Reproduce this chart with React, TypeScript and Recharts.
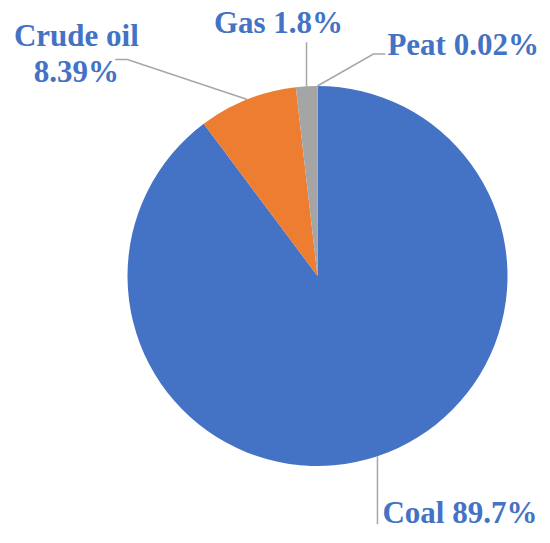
import { PieChart, Pie, Cell } from "recharts";

const fuels = ["Coal", "Crude oil", "Gas", "Peat"];
const shares = [89.7, 8.39, 1.8, 0.02];
const colors = ["#4472C4", "#ED7D31", "#A5A5A5", "#FFC000"];

const data = fuels.map((name, i) => ({ name, value: shares[i] }));

// label placement relative to the slice's arc midpoint
const layout: Record<
  string,
  { line: [number, number][]; tx: number; ty: number; anchor: "start" | "middle" | "end"; split?: boolean }
> = {
  Coal: { line: [[0, 0], [0, 68]], tx: 5, ty: 67, anchor: "start" },
  "Crude oil": { line: [[0, 0], [-120, -40], [-132, -40]], tx: -171, ty: -53, anchor: "middle", split: true },
  Gas: { line: [[0, 0], [0, -44]], tx: -28, ty: -53, anchor: "middle" },
  Peat: { line: [[0, 0], [56, -32], [68, -32]], tx: 70, ty: -31, anchor: "start" },
};

const RAD = Math.PI / 180;
const LABEL_COLOR = "#4472C4";
const LINE_COLOR = "#A6A6A6";

function arcPoint(p: any) {
  return {
    x: p.cx + p.outerRadius * Math.cos(-p.midAngle * RAD),
    y: p.cy + p.outerRadius * Math.sin(-p.midAngle * RAD),
  };
}

function renderLabel(p: any) {
  const name = p.name ?? p.payload?.name;
  const cfg = layout[name];
  if (!cfg) return null;
  const a = arcPoint(p);
  const x = a.x + cfg.tx;
  const y = a.y + cfg.ty;
  const style = {
    fontFamily: '"Liberation Serif", "Times New Roman", serif',
    fontWeight: 700,
    fontSize: 31,
  };
  if (cfg.split) {
    return (
      <text x={x} y={y} textAnchor={cfg.anchor} fill={LABEL_COLOR} style={style}>
        <tspan x={x}>{name}</tspan>
        <tspan x={x} dy={36}>{`${p.value}%`}</tspan>
      </text>
    );
  }
  return (
    <text x={x} y={y} textAnchor={cfg.anchor} fill={LABEL_COLOR} style={style}>
      {`${name} ${p.value}%`}
    </text>
  );
}

function renderLine(p: any) {
  const name = p.name ?? p.payload?.name;
  const cfg = layout[name];
  if (!cfg) return <g />;
  const a = arcPoint(p);
  const pts = cfg.line.map(([dx, dy]) => `${a.x + dx},${a.y + dy}`).join(" ");
  return <polyline points={pts} fill="none" stroke={LINE_COLOR} strokeWidth={1.5} />;
}

export default function App() {
  return (
    <div style={{ position: "absolute", left: 0, top: 0, width: 550, height: 543, background: "#fff" }}>
      <PieChart width={550} height={543} margin={{ top: 0, right: 0, bottom: 0, left: 0 }}>
        <Pie
          data={data}
          dataKey="value"
          nameKey="name"
          cx={317.5}
          cy={276}
          outerRadius={190}
          startAngle={90}
          endAngle={-270}
          stroke="none"
          label={renderLabel}
          labelLine={renderLine}
          isAnimationActive={false}
        >
          {data.map((d, i) => (
            <Cell key={d.name} fill={colors[i]} />
          ))}
        </Pie>
      </PieChart>
    </div>
  );
}
